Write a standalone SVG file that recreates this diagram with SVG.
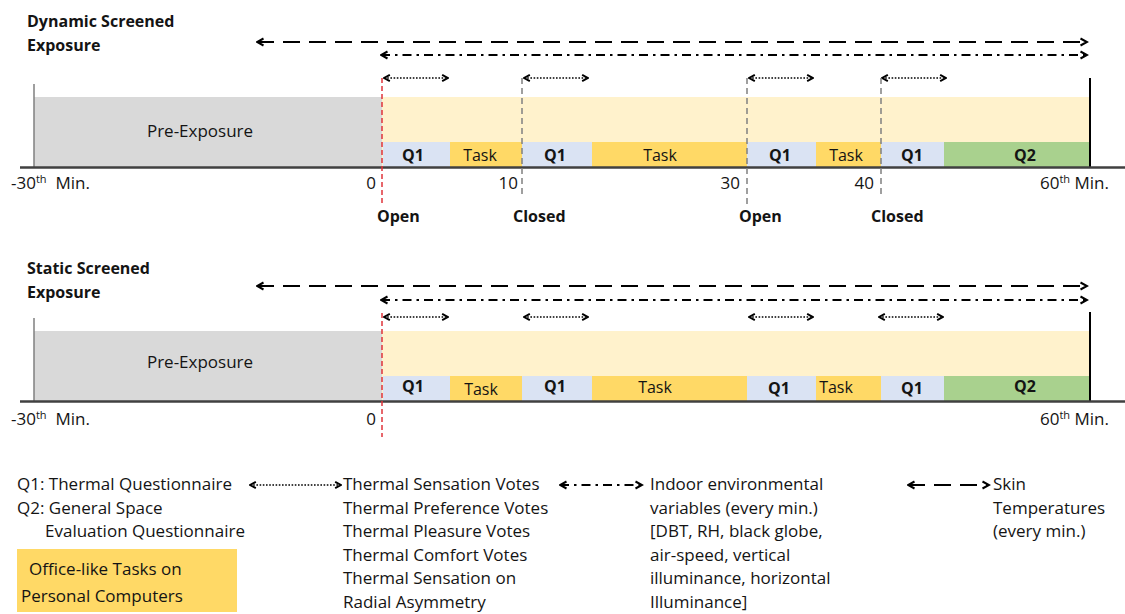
<svg xmlns="http://www.w3.org/2000/svg" width="1125" height="614" viewBox="0 0 1125 614">
<style>
text{font-family:"Open Sans","Liberation Sans",sans-serif;fill:#141414;font-size:16px}
.b{font-weight:bold}
.t{font-size:16px;font-weight:bold}
.ax{font-size:17px}
.lg{font-size:17px}
.c{text-anchor:middle}
.r{text-anchor:end}
.pre{fill:#d9d9d9}
.exp{fill:#fff2cc}
.q1{fill:#dae3f3}
.task{fill:#ffd966}
.q2{fill:#a9d18e}
.base{stroke:#404040;stroke-width:2.5;fill:none}
.axl{stroke:#7f7f7f;stroke-width:1.5}
.axr{stroke:#000;stroke-width:2}
.dash{stroke:#000;stroke-width:2.2;fill:none;stroke-dasharray:17 9;marker-start:url(#ch);marker-end:url(#ch)}
.dd{stroke:#000;stroke-width:2;fill:none;stroke-dasharray:9 5 2.5 5;marker-start:url(#ch);marker-end:url(#ch)}
.dot{stroke:#000;stroke-width:1.6;fill:none;stroke-dasharray:1.6 1.6;marker-start:url(#chs);marker-end:url(#chs)}
.red{stroke:#e0353b;stroke-width:1.5;stroke-dasharray:5 3}
.gry{stroke:#808080;stroke-width:1.5;stroke-dasharray:6 4}
</style>
<defs>
<marker id="ch" viewBox="0 0 10 10" refX="8.5" refY="5" markerWidth="10" markerHeight="10" markerUnits="userSpaceOnUse" orient="auto-start-reverse">
<path d="M2,1.5 L8.5,5 L2,8.5" fill="none" stroke="#000" stroke-width="2"/>
</marker>
<marker id="chs" viewBox="0 0 10 10" refX="8.5" refY="5" markerWidth="9" markerHeight="9" markerUnits="userSpaceOnUse" orient="auto-start-reverse">
<path d="M2,1.5 L8.5,5 L2,8.5" fill="none" stroke="#000" stroke-width="2.2"/>
</marker>
</defs>

<!-- ===== Dynamic section ===== -->
<g id="dyn-title"><text class="t" x="27" y="27">Dynamic Screened</text><text class="t" x="27" y="51">Exposure</text></g>
<g id="dyn-pre"><rect class="pre" x="34" y="97" width="348" height="70"/><text x="200" y="137" class="c ax">Pre-Exposure</text></g>
<g id="dyn-exposure"><rect class="exp" x="382" y="97" width="708" height="70"/></g>
<g id="dyn-q1a"><rect class="q1" x="383" y="142" width="67" height="25"/><text class="b c" x="413" y="161">Q1</text></g>
<g id="dyn-task1"><rect class="task" x="450" y="142" width="72" height="25"/><text class="c" x="480" y="161">Task</text></g>
<g id="dyn-q1b"><rect class="q1" x="522" y="142" width="70" height="25"/><text class="b c" x="555" y="161">Q1</text></g>
<g id="dyn-task2"><rect class="task" x="592" y="142" width="155" height="25"/><text class="c" x="660" y="161">Task</text></g>
<g id="dyn-q1c"><rect class="q1" x="747" y="142" width="69" height="25"/><text class="b c" x="780" y="161">Q1</text></g>
<g id="dyn-task3"><rect class="task" x="816" y="142" width="65" height="25"/><text class="c" x="846" y="161">Task</text></g>
<g id="dyn-q1d"><rect class="q1" x="881" y="142" width="63" height="25"/><text class="b c" x="912" y="161">Q1</text></g>
<g id="dyn-q2"><rect class="q2" x="944" y="142" width="146" height="25"/><text class="b c" x="1025" y="161">Q2</text></g>
<g id="dyn-axis">
<line class="axl" x1="34" y1="84" x2="34" y2="167"/>
<line class="axr" x1="1090" y1="78" x2="1090" y2="167"/>
<line class="base" x1="20" y1="167.5" x2="1125" y2="167.5"/>
<text class="ax" x="11" y="189">-30<tspan font-size="11" dy="-6">th</tspan><tspan dy="6" xml:space="preserve">  Min.</tspan></text>
<text class="ax r" x="376" y="189">0</text>
<text class="ax r" x="518" y="189">10</text>
<text class="ax r" x="740" y="189">30</text>
<text class="ax r" x="874" y="189">40</text>
<text class="ax" x="1040" y="189">60<tspan font-size="11" dy="-6">th</tspan><tspan dy="6"> Min.</tspan></text>
</g>
<g id="dyn-events">
<text class="b" x="377" y="222">Open</text>
<text class="b" x="513" y="222">Closed</text>
<text class="b" x="739" y="222">Open</text>
<text class="b" x="871" y="222">Closed</text>
</g>

<!-- ===== Static section ===== -->
<g id="sta-title"><text class="t" x="27" y="274">Static Screened</text><text class="t" x="27" y="298">Exposure</text></g>
<g id="sta-pre"><rect class="pre" x="34" y="331" width="348" height="70"/><text x="200" y="368" class="c ax">Pre-Exposure</text></g>
<g id="sta-exposure"><rect class="exp" x="382" y="331" width="708" height="70"/></g>
<g id="sta-q1a"><rect class="q1" x="383" y="376" width="67" height="25"/><text class="b c" x="413" y="392">Q1</text></g>
<g id="sta-task1"><rect class="task" x="450" y="376" width="72" height="25"/><text class="c" x="481" y="395">Task</text></g>
<g id="sta-q1b"><rect class="q1" x="522" y="376" width="70" height="25"/><text class="b c" x="555" y="392">Q1</text></g>
<g id="sta-task2"><rect class="task" x="592" y="376" width="155" height="25"/><text class="c" x="655" y="393">Task</text></g>
<g id="sta-q1c"><rect class="q1" x="747" y="376" width="69" height="25"/><text class="b c" x="779" y="394">Q1</text></g>
<g id="sta-task3"><rect class="task" x="816" y="376" width="65" height="25"/><text class="c" x="836" y="393">Task</text></g>
<g id="sta-q1d"><rect class="q1" x="881" y="376" width="63" height="25"/><text class="b c" x="912" y="394">Q1</text></g>
<g id="sta-q2"><rect class="q2" x="944" y="376" width="146" height="25"/><text class="b c" x="1025" y="392">Q2</text></g>
<g id="sta-axis">
<line class="axl" x1="34" y1="318" x2="34" y2="401"/>
<line class="axr" x1="1090" y1="312" x2="1090" y2="401"/>
<line class="base" x1="20" y1="401.5" x2="1125" y2="401.5"/>
<text class="ax" x="11" y="425">-30<tspan font-size="11" dy="-6">th</tspan><tspan dy="6" xml:space="preserve">  Min.</tspan></text>
<text class="ax r" x="376" y="425">0</text>
<text class="ax" x="1040" y="425">60<tspan font-size="11" dy="-6">th</tspan><tspan dy="6"> Min.</tspan></text>
</g>

<!-- ===== Connectors ===== -->
<g id="connectors">
<line class="dash" x1="257" y1="42" x2="1087" y2="42"/>
<line class="dd" x1="381" y1="55" x2="1087" y2="55"/>
<line class="dot" x1="384" y1="78" x2="448" y2="78"/>
<line class="dot" x1="524" y1="78" x2="588" y2="78"/>
<line class="dot" x1="749" y1="78" x2="813" y2="78"/>
<line class="dot" x1="882" y1="78" x2="946" y2="78"/>
<line class="red" x1="382" y1="78" x2="382" y2="205"/>
<line class="gry" x1="522" y1="78" x2="522" y2="195"/>
<line class="gry" x1="747" y1="78" x2="747" y2="205"/>
<line class="gry" x1="881" y1="78" x2="881" y2="195"/>

<line class="dash" x1="257" y1="286" x2="1087" y2="286"/>
<line class="dd" x1="381" y1="300" x2="1087" y2="300"/>
<line class="dot" x1="384" y1="317" x2="448" y2="317"/>
<line class="dot" x1="524" y1="317" x2="588" y2="317"/>
<line class="dot" x1="749" y1="317" x2="813" y2="317"/>
<line class="dot" x1="879" y1="317" x2="943" y2="317"/>
<line class="red" x1="382" y1="313" x2="382" y2="437"/>

<line class="dot" x1="250" y1="485" x2="341" y2="485"/>
<line class="dd" x1="560" y1="485" x2="642" y2="485"/>
<line class="dash" x1="908" y1="485" x2="989" y2="485"/>
</g>

<!-- ===== Legend ===== -->
<g id="legend-q">
<text class="lg" x="17" y="490">Q1: Thermal Questionnaire</text>
<text class="lg" x="17" y="513.5">Q2: General Space</text>
<text class="lg" x="45" y="537">Evaluation Questionnaire</text>
</g>
<g id="legend-task"><rect class="task" x="17" y="549" width="220" height="63"/>
<text class="lg" x="29" y="575">Office-like Tasks on</text>
<text class="lg" x="21" y="602">Personal Computers</text>
</g>
<g id="legend-votes">
<text class="lg" x="343" y="490">Thermal Sensation Votes</text>
<text class="lg" x="343" y="513.5">Thermal Preference Votes</text>
<text class="lg" x="343" y="537">Thermal Pleasure Votes</text>
<text class="lg" x="343" y="560.5">Thermal Comfort Votes</text>
<text class="lg" x="343" y="584">Thermal Sensation on</text>
<text class="lg" x="343" y="607.5">Radial Asymmetry</text>
</g>
<g id="legend-env">
<text class="lg" x="650" y="490">Indoor environmental</text>
<text class="lg" x="650" y="513.5">variables (every min.)</text>
<text class="lg" x="650" y="537">[DBT, RH, black globe,</text>
<text class="lg" x="650" y="560.5">air-speed, vertical</text>
<text class="lg" x="650" y="584">illuminance, horizontal</text>
<text class="lg" x="650" y="607.5">Illuminance]</text>
</g>
<g id="legend-skin">
<text class="lg" x="993" y="490">Skin</text>
<text class="lg" x="993" y="513.5">Temperatures</text>
<text class="lg" x="993" y="537">(every min.)</text>
</g>
</svg>
